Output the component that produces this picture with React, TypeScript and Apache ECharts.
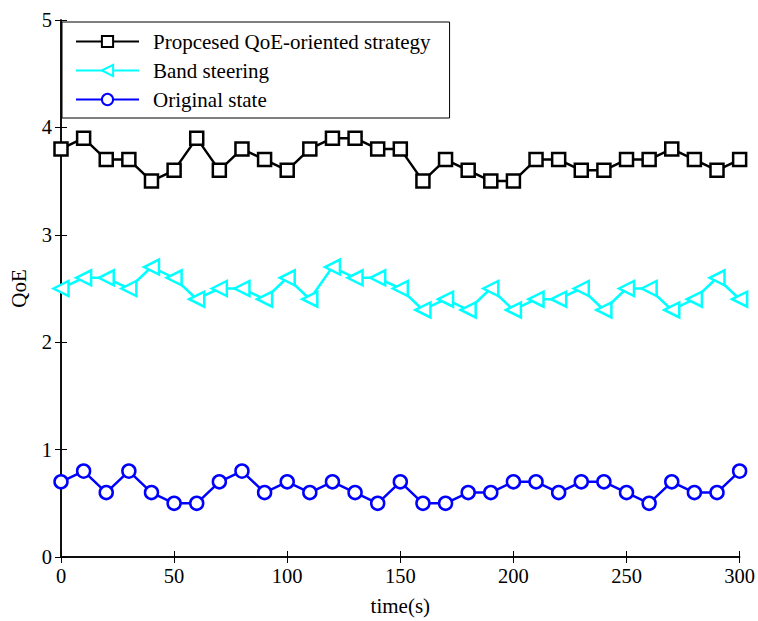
import React, { useEffect, useRef } from "react";
import * as echarts from "echarts";

const times = [0, 10, 20, 30, 40, 50, 60, 70, 80, 90, 100, 110, 120, 130, 140, 150, 160, 170, 180, 190, 200, 210, 220, 230, 240, 250, 260, 270, 280, 290, 300];
const proposed = [3.8, 3.9, 3.7, 3.7, 3.5, 3.6, 3.9, 3.6, 3.8, 3.7, 3.6, 3.8, 3.9, 3.9, 3.8, 3.8, 3.5, 3.7, 3.6, 3.5, 3.5, 3.7, 3.7, 3.6, 3.6, 3.7, 3.7, 3.8, 3.7, 3.6, 3.7];
const bandSteering = [2.5, 2.6, 2.6, 2.5, 2.7, 2.6, 2.4, 2.5, 2.5, 2.4, 2.6, 2.4, 2.7, 2.6, 2.6, 2.5, 2.3, 2.4, 2.3, 2.5, 2.3, 2.4, 2.4, 2.5, 2.3, 2.5, 2.5, 2.3, 2.4, 2.6, 2.4];
const original = [0.7, 0.8, 0.6, 0.8, 0.6, 0.5, 0.5, 0.7, 0.8, 0.6, 0.7, 0.6, 0.7, 0.6, 0.5, 0.7, 0.5, 0.5, 0.6, 0.6, 0.7, 0.7, 0.6, 0.7, 0.7, 0.6, 0.5, 0.7, 0.6, 0.6, 0.8];
const seriesNames = ["Propcesed QoE-oriented strategy", "Band steering", "Original state"];

const FONT = "'Liberation Serif', 'Times New Roman', serif";

export default function App() {
  const ref = useRef<HTMLDivElement>(null);
  useEffect(() => {
    const chart = echarts.init(ref.current!, null, { renderer: "svg" });
    const pair = (vals: number[]) => times.map((t, i) => [t, vals[i]]);
    const axisLine = { show: true, lineStyle: { color: "#000", width: 1.5 } };
    const tick = { show: true, inside: true, length: 6, lineStyle: { color: "#000", width: 1 } };
    const lbl = { color: "#000", fontFamily: FONT, fontSize: 20.5 };
    chart.setOption({
      animation: false,
      backgroundColor: "#fff",
      grid: { left: 60, right: 17, top: 20, bottom: 63, containLabel: false },
      legend: {
        orient: "vertical",
        left: 62,
        top: 22,
        padding: [9, 19, 8, 13],
        itemWidth: 63,
        itemHeight: 14,
        itemGap: 8,
        borderColor: "#000",
        borderWidth: 1,
        backgroundColor: "#fff",
        textStyle: { color: "#000", fontFamily: FONT, fontSize: 21, lineHeight: 21, padding: [0, 0, 0, 9] },
        data: seriesNames,
      },
      xAxis: [
        {
          type: "value", min: 0, max: 300, interval: 50, position: "bottom",
          name: "time(s)", nameLocation: "middle", nameGap: 38,
          nameTextStyle: { color: "#000", fontFamily: FONT, fontSize: 21 },
          axisLine, axisTick: tick, axisLabel: { ...lbl, margin: 8 }, splitLine: { show: false },
        },
        {
          type: "value", min: 0, max: 300, interval: 50, position: "top",
          axisLine, axisTick: tick, axisLabel: { show: false }, splitLine: { show: false },
        },
      ],
      yAxis: [
        {
          type: "value", min: 0, max: 5, interval: 1, position: "left",
          name: "QoE", nameLocation: "middle", nameGap: 32, nameRotate: 90,
          nameTextStyle: { color: "#000", fontFamily: FONT, fontSize: 21 },
          axisLine, axisTick: tick, axisLabel: { ...lbl, margin: 9 }, splitLine: { show: false },
        },
        {
          type: "value", min: 0, max: 5, interval: 1, position: "right",
          axisLine, axisTick: tick, axisLabel: { show: false }, splitLine: { show: false },
        },
      ],
      series: [
        {
          name: seriesNames[0], type: "line", data: pair(proposed),
          symbol: "rect", symbolSize: 13, showAllSymbol: true,
          lineStyle: { color: "#000", width: 2.5 },
          itemStyle: { color: "#fff", borderColor: "#000", borderWidth: 2.5 },
        },
        {
          name: seriesNames[1], type: "line", data: pair(bandSteering),
          symbol: "triangle", symbolRotate: 90, symbolSize: 15, showAllSymbol: true,
          lineStyle: { color: "#00FFFF", width: 2.5 },
          itemStyle: { color: "#fff", borderColor: "#00FFFF", borderWidth: 2.5 },
        },
        {
          name: seriesNames[2], type: "line", data: pair(original),
          symbol: "circle", symbolSize: 13, showAllSymbol: true,
          lineStyle: { color: "#0000FF", width: 2.5 },
          itemStyle: { color: "#fff", borderColor: "#0000FF", borderWidth: 2.5 },
        },
      ],
    });
    return () => chart.dispose();
  }, []);
  return <div ref={ref} style={{ width: 758, height: 621, position: "absolute", left: 0, top: 0 }} />;
}
